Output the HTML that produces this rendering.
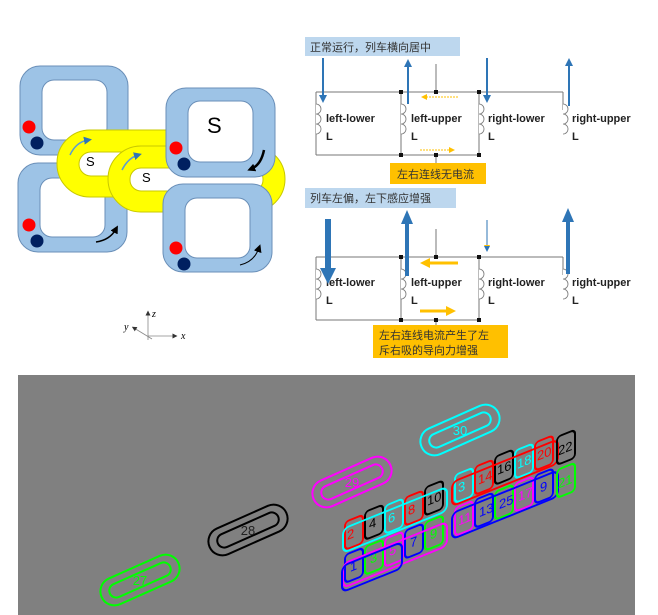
<!DOCTYPE html>
<html><head><meta charset="utf-8"><style>
html,body{margin:0;padding:0;background:#fff;width:658px;height:615px;overflow:hidden}
svg{display:block}
.t{font-family:"Liberation Sans","Noto Sans CJK SC",sans-serif}
.lb{font-family:"Liberation Sans",sans-serif;font-weight:bold;font-size:11px;fill:#222}
.cn{font-family:"Liberation Sans","Noto Sans CJK SC",sans-serif;font-size:11px;fill:#333}
</style></head><body>
<svg width="658" height="615" viewBox="0 0 658 615" xmlns="http://www.w3.org/2000/svg">
<defs>
<marker id="ab" markerUnits="userSpaceOnUse" markerWidth="8" markerHeight="8" refX="4" refY="4" orient="auto"><path d="M0,0L8,4L0,8z" fill="#2e75b6"/></marker>
<marker id="ao" markerUnits="userSpaceOnUse" markerWidth="6" markerHeight="6" refX="3" refY="3" orient="auto"><path d="M0,0L6,3L0,6z" fill="#ffc000"/></marker>
<marker id="ak" markerUnits="userSpaceOnUse" markerWidth="8" markerHeight="8" refX="4" refY="4" orient="auto"><path d="M0,0L8,4L0,8z" fill="#000"/></marker>
<marker id="ag" markerUnits="userSpaceOnUse" markerWidth="5" markerHeight="5" refX="2.5" refY="2.5" orient="auto"><path d="M0,0L5,2.5L0,5z" fill="#333"/></marker>
</defs>
<g stroke="#6a8fb8" stroke-width="1">
<rect x="20" y="66" width="108" height="89" rx="20" fill="#9dc3e6"/>
<rect x="42" y="80" width="65" height="60" rx="12" fill="#fff"/>
<rect x="18" y="163" width="109" height="89" rx="20" fill="#9dc3e6"/>
<rect x="40" y="178" width="65" height="59" rx="12" fill="#fff"/>
</g>
<g stroke="#c8c800" stroke-width="1">
<rect x="57" y="130" width="160" height="67" rx="33" fill="#ffff00"/>
<rect x="79" y="152" width="130" height="24" rx="12" fill="#fff"/>
<rect x="108" y="146" width="177" height="66" rx="33" fill="#ffff00"/>
<rect x="130" y="168" width="133" height="23" rx="11" fill="#fff"/>
</g>
<g stroke="#6a8fb8" stroke-width="1">
<rect x="166" y="88" width="109" height="89" rx="20" fill="#9dc3e6"/>
<rect x="188" y="101" width="65" height="61" rx="12" fill="#fff"/>
<rect x="163" y="184" width="109" height="88" rx="20" fill="#9dc3e6"/>
<rect x="185" y="198" width="65" height="60" rx="12" fill="#fff"/>
</g>
<g>
<circle cx="29" cy="127" r="6.5" fill="#f00"/><circle cx="37" cy="143" r="6.5" fill="#002060"/>
<circle cx="29" cy="225" r="6.5" fill="#f00"/><circle cx="37" cy="241" r="6.5" fill="#002060"/>
<circle cx="176" cy="148" r="6.5" fill="#f00"/><circle cx="184" cy="164" r="6.5" fill="#002060"/>
<circle cx="176" cy="248" r="6.5" fill="#f00"/><circle cx="184" cy="264" r="6.5" fill="#002060"/>
</g>
<path d="M70,155 Q76,142 88,140" stroke="#5b9bd5" stroke-width="1.5" fill="none" marker-end="url(#ab)"/>
<path d="M122,170 Q128,158 138,155" stroke="#5b9bd5" stroke-width="1.5" fill="none" marker-end="url(#ab)"/>
<path d="M264,150 Q261,165 251,169" stroke="#000" stroke-width="2.5" fill="none" marker-end="url(#ak)"/>
<path d="M96,242 Q110,240 116,229" stroke="#000" stroke-width="1.5" fill="none" marker-end="url(#ak)"/>
<path d="M240,265 Q254,262 259,248" stroke="#000" stroke-width="1" fill="none" marker-end="url(#ak)"/>
<text x="86" y="166" class="t" font-size="13">S</text>
<text x="142" y="182" class="t" font-size="13">S</text>
<text x="207" y="133" class="t" font-size="22">S</text>
<g stroke="#888" stroke-width="0.8">
<line x1="148" y1="340" x2="148" y2="313" marker-end="url(#ag)"/>
<line x1="148" y1="336" x2="175" y2="336" marker-end="url(#ag)"/>
<line x1="152" y1="339" x2="134" y2="328" marker-end="url(#ag)"/>
</g>
<text x="152" y="317" font-family="Liberation Serif" font-style="italic" font-size="10">z</text>
<text x="181" y="339" font-family="Liberation Serif" font-style="italic" font-size="10">x</text>
<text x="124" y="330" font-family="Liberation Serif" font-style="italic" font-size="10">y</text>

<rect x="305" y="37" width="155" height="19" fill="#bdd7ee"/>
<text x="310" y="51" class="cn">正常运行，列车横向居中</text>
<path d="M316,92 H563 M316,155 H479 M316,92 V155 M401,92 V155 M479,92 V155 M563,92 V110 M436,64 V92 M436,155 V163" stroke="#777" fill="none"/>
<g fill="#111"><rect x="399" y="90" width="4" height="4"/><rect x="434" y="90" width="4" height="4"/><rect x="477" y="90" width="4" height="4"/><rect x="399" y="153" width="4" height="4"/><rect x="434" y="153" width="4" height="4"/><rect x="477" y="153" width="4" height="4"/></g>
<g fill="#fff" stroke="#777" stroke-width="0.8">
<path d="M316,104 a5,5 0 1,1 0,10 a5,5 0 1,1 0,10 a5,5 0 1,1 0,10" />
<path d="M401,104 a5,5 0 1,1 0,10 a5,5 0 1,1 0,10 a5,5 0 1,1 0,10"/>
<path d="M479,104 a5,5 0 1,1 0,10 a5,5 0 1,1 0,10 a5,5 0 1,1 0,10"/>
<path d="M563,104 a5,5 0 1,1 0,10 a5,5 0 1,1 0,10 a5,5 0 1,1 0,10"/>
</g>
<text x="326" y="122" class="lb">left-lower</text><text x="326" y="140" class="lb">L</text>
<text x="411" y="122" class="lb">left-upper</text><text x="411" y="140" class="lb">L</text>
<text x="488" y="122" class="lb">right-lower</text><text x="488" y="140" class="lb">L</text>
<text x="572" y="122" class="lb">right-upper</text><text x="572" y="140" class="lb">L</text>
<g stroke="#2e75b6" stroke-width="2">
<line x1="323" y1="58" x2="323" y2="99" marker-end="url(#ab)"/>
<line x1="408" y1="104" x2="408" y2="63" marker-end="url(#ab)"/>
<line x1="487" y1="58" x2="487" y2="99" marker-end="url(#ab)"/>
<line x1="569" y1="106" x2="569" y2="62" marker-end="url(#ab)"/>
</g>
<line x1="458" y1="97" x2="424" y2="97" stroke="#ffc000" stroke-dasharray="2,1" marker-end="url(#ao)"/>
<line x1="420" y1="150" x2="452" y2="150" stroke="#ffc000" stroke-dasharray="2,1" marker-end="url(#ao)"/>
<rect x="390" y="163" width="96" height="21" fill="#ffc000"/>
<text x="397" y="178" class="cn" font-size="12">左右连线无电流</text>

<rect x="305" y="188" width="151" height="20" fill="#bdd7ee"/>
<text x="310" y="202" class="cn">列车左偏，左下感应增强</text>
<path d="M316,257 H563 M316,320 H479 M316,257 V320 M401,257 V320 M479,257 V320 M563,257 V275 M436,229 V257 M436,320 V326" stroke="#777" fill="none"/>
<g fill="#111"><rect x="399" y="255" width="4" height="4"/><rect x="434" y="255" width="4" height="4"/><rect x="477" y="255" width="4" height="4"/><rect x="399" y="318" width="4" height="4"/><rect x="434" y="318" width="4" height="4"/><rect x="477" y="318" width="4" height="4"/></g>
<g fill="#fff" stroke="#777" stroke-width="0.8">
<path d="M316,269 a5,5 0 1,1 0,10 a5,5 0 1,1 0,10 a5,5 0 1,1 0,10"/>
<path d="M401,269 a5,5 0 1,1 0,10 a5,5 0 1,1 0,10 a5,5 0 1,1 0,10"/>
<path d="M479,269 a5,5 0 1,1 0,10 a5,5 0 1,1 0,10 a5,5 0 1,1 0,10"/>
<path d="M563,269 a5,5 0 1,1 0,10 a5,5 0 1,1 0,10 a5,5 0 1,1 0,10"/>
</g>
<text x="326" y="286" class="lb">left-lower</text><text x="326" y="304" class="lb">L</text>
<text x="411" y="286" class="lb">left-upper</text><text x="411" y="304" class="lb">L</text>
<text x="488" y="286" class="lb">right-lower</text><text x="488" y="304" class="lb">L</text>
<text x="572" y="286" class="lb">right-upper</text><text x="572" y="304" class="lb">L</text>
<g fill="#2e75b6">
<rect x="325" y="219" width="6" height="50"/><path d="M320,268 H336 L328,284z"/>
<rect x="405" y="222" width="4" height="54"/><path d="M401,224 H413 L407,210z"/>
<line x1="487" y1="220" x2="487" y2="248" stroke="#2e75b6" stroke-width="1" marker-end="url(#ao)"/>
<rect x="566" y="220" width="4" height="54"/><path d="M562,222 H574 L568,208z"/>
</g>
<path d="M484,246 L490,246 L487,252z" fill="#2e75b6"/>
<g stroke="#ffc000" stroke-width="3">
<line x1="458" y1="263" x2="428" y2="263"/><line x1="420" y1="311" x2="448" y2="311"/>
</g>
<path d="M420,263 L430,258 L430,268z M456,311 L446,306 L446,316z" fill="#ffc000"/>
<rect x="373" y="325" width="135" height="33" fill="#ffc000"/>
<text x="379" y="339" class="cn" font-size="12">左右连线电流产生了左</text>
<text x="379" y="354" class="cn" font-size="12">斥右吸的导向力增强</text>

<rect x="18" y="375" width="617" height="240" fill="#808080"/>
<g fill="none" stroke-width="2" font-family="Liberation Sans" font-size="13">
<g stroke="#00ff00"><g transform="translate(140,580) rotate(-24)"><rect x="-42" y="-14" width="84" height="28" rx="14"/><rect x="-33" y="-7" width="66" height="14" rx="7"/></g><text x="140" y="585" text-anchor="middle" fill="#00ff00" stroke="none">27</text></g>
<g stroke="#000"><g transform="translate(248,530) rotate(-24)"><rect x="-42" y="-14" width="84" height="28" rx="14"/><rect x="-33" y="-7" width="66" height="14" rx="7"/></g><text x="248" y="535" text-anchor="middle" fill="#222" stroke="none">28</text></g>
<g stroke="#ff00ff"><g transform="translate(352,482) rotate(-24)"><rect x="-42" y="-14" width="84" height="28" rx="14"/><rect x="-33" y="-7" width="66" height="14" rx="7"/></g><text x="352" y="487" text-anchor="middle" fill="#ff00ff" stroke="none">29</text></g>
<g stroke="#00ffff"><g transform="translate(460,430) rotate(-24)"><rect x="-42" y="-14" width="84" height="28" rx="14"/><rect x="-33" y="-7" width="66" height="14" rx="7"/></g><text x="460" y="435" text-anchor="middle" fill="#00ffff" stroke="none">30</text></g>

<g transform="translate(345,555) skewY(-22)">
<rect x="0" y="0" width="18" height="28" rx="4" stroke="#00f"/><text x="5" y="19" fill="#00f" stroke="none">1</text>
<rect x="20" y="0" width="18" height="28" rx="4" stroke="#0f0"/><text x="25" y="19" fill="#0f0" stroke="none">3</text>
<rect x="40" y="0" width="18" height="28" rx="4" stroke="#f0f"/><text x="44" y="19" fill="#f0f" stroke="none">5</text>
<rect x="60" y="0" width="18" height="28" rx="4" stroke="#00f"/><text x="65" y="19" fill="#00f" stroke="none">7</text>
<rect x="80" y="0" width="18" height="28" rx="4" stroke="#0f0"/><text x="85" y="19" fill="#0f0" stroke="none">9</text>
<rect x="-2" y="8" width="104" height="24" rx="6" stroke="#f0f"/>
<rect x="-3" y="10" width="60" height="26" rx="6" stroke="#00f"/>
</g>
<g transform="translate(345,522) skewY(-22)">
<rect x="0" y="0" width="18" height="28" rx="4" stroke="#f00"/><text x="2" y="19" fill="#f00" stroke="none">2</text>
<rect x="20" y="-2" width="18" height="28" rx="4" stroke="#000"/><text x="24" y="17" fill="#000" stroke="none">4</text>
<rect x="40" y="0" width="18" height="28" rx="4" stroke="#0ff"/><text x="43" y="19" fill="#0ff" stroke="none">6</text>
<rect x="60" y="0" width="18" height="28" rx="4" stroke="#f00"/><text x="63" y="19" fill="#f00" stroke="none">8</text>
<rect x="80" y="-2" width="18" height="28" rx="4" stroke="#000"/><text x="82" y="17" fill="#000" stroke="none">10</text>
<rect x="-2" y="6" width="104" height="24" rx="6" stroke="#0ff"/>
</g>
<g transform="translate(455,508) skewY(-22)">
<rect x="0" y="0" width="18" height="28" rx="4" stroke="#f0f"/><text x="3" y="19" fill="#f0f" stroke="none">11</text>
<rect x="20" y="0" width="18" height="28" rx="4" stroke="#00f"/><text x="24" y="19" fill="#00f" stroke="none">13</text>
<rect x="40" y="0" width="18" height="28" rx="4" stroke="#0f0"/><text x="44" y="19" fill="#00f" stroke="none">25</text>
<rect x="60" y="0" width="18" height="28" rx="4" stroke="#f0f"/><text x="63" y="19" fill="#f0f" stroke="none">17</text>
<rect x="80" y="0" width="18" height="28" rx="4" stroke="#00f"/><text x="85" y="19" fill="#00f" stroke="none">9</text>
<rect x="-3" y="4" width="106" height="26" rx="6" stroke="#00f"/>
</g>
<g transform="translate(455,475) skewY(-22)">
<rect x="0" y="0" width="18" height="28" rx="4" stroke="#0ff"/><text x="3" y="19" fill="#0ff" stroke="none">3</text>
<rect x="20" y="0" width="18" height="28" rx="4" stroke="#f00"/><text x="23" y="19" fill="#f00" stroke="none">14</text>
<rect x="40" y="-2" width="18" height="28" rx="4" stroke="#000"/><text x="42" y="17" fill="#000" stroke="none">16</text>
<rect x="60" y="0" width="18" height="28" rx="4" stroke="#0ff"/><text x="62" y="19" fill="#0ff" stroke="none">18</text>
<rect x="80" y="0" width="18" height="28" rx="4" stroke="#f00"/><text x="82" y="19" fill="#f00" stroke="none">20</text>
<rect x="-3" y="6" width="106" height="24" rx="6" stroke="#f00"/>
</g>
<g transform="translate(557,437) skewY(-22)">
<rect x="0" y="0" width="18" height="28" rx="4" stroke="#000"/><text x="1" y="19" fill="#000" stroke="none">22</text>
<rect x="0" y="33" width="18" height="28" rx="4" stroke="#0f0"/><text x="1" y="52" fill="#0f0" stroke="none">21</text>
</g>
</g>
</svg>
</body></html>
